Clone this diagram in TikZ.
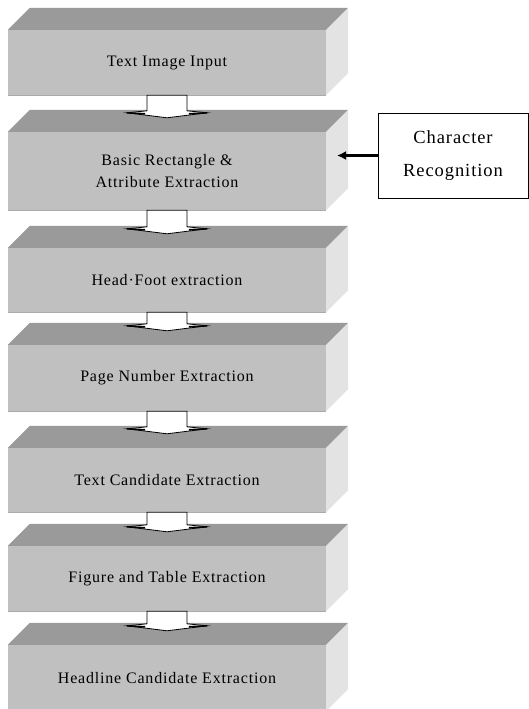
\documentclass[tikz,border=0pt]{standalone}
\usepackage{fontspec}
\setmainfont{Liberation Serif}[LetterSpace=5]
\usetikzlibrary{calc,arrows.meta}
\definecolor{topc}{HTML}{9A9A9A}
\definecolor{frontc}{HTML}{C0C0C0}
\definecolor{sidec}{HTML}{E3E3E3}
\definecolor{edgec}{HTML}{ABABAB}
\tikzset{
  front/.style={rectangle, fill=frontc, minimum width=318pt, inner sep=0pt,
    font=\fontsize{16}{22}\selectfont, align=center, text=black},
  topface/.style={fill=topc},
  sideface/.style={fill=sidec},
  bottomline/.style={draw=edgec, line width=0.8pt},
  blockarr/.style={fill=white, draw=black, line width=0.8pt, line join=miter},
  wingshade/.style={draw=black, line width=1.6pt},
  crbox/.style={draw=black, line width=1pt, fill=white, minimum width=150pt,
    minimum height=85pt, inner sep=0pt, align=center,
    font=\fontsize{18.5}{33}\selectfont},
  sidearr/.style={line width=2.5pt, -{Latex[length=9pt,width=9pt]}}
}
\newcommand\cubefaces[1]{%
  \fill[topface] (#1.north west) -- ++(22,-22) -- ($(#1.north east)+(22,-22)$) -- (#1.north east) -- cycle;
  \fill[sideface] (#1.north east) -- ++(22,-22) -- ($(#1.south east)+(22,-22)$) -- (#1.south east) -- cycle;
  \draw[bottomline] (#1.south west) -- (#1.south east);
}
\newcommand\blockarrow[2]{%
  \draw[blockarr] let \p1=(#1.south), \p2=(#2.north) in
    (\x1-20pt,\y1) -- (\x1+20pt,\y1) -- (\x1+20pt,\y2+21pt) -- (\x1+40pt,\y2+19pt)
    -- (\x1,\y2+14pt) -- (\x1-40pt,\y2+19pt) -- (\x1-20pt,\y2+21pt) -- cycle;
  \draw[wingshade] let \p1=(#1.south), \p2=(#2.north) in
    (\x1-40pt,\y2+19pt) -- (\x1-22pt,\y2+18pt)
    (\x1+40pt,\y2+19pt) -- (\x1+22pt,\y2+18pt);
}
\begin{document}
\begin{tikzpicture}[x=1pt,y=-1pt]
\useasboundingbox (0,0) rectangle (529,709);
\node[front, minimum height=65pt] (b1) at (167,62.5) {Text Image Input};
\node[front, minimum height=78pt] (b2) at (167,171) {Basic Rectangle \&\\Attribute Extraction};
\node[front, minimum height=64pt] (b3) at (167,280) {Head·Foot extraction};
\node[front, minimum height=66pt] (b4) at (167,378) {Page Number Extraction};
\node[front, minimum height=64pt] (b5) at (167,480) {Text Candidate Extraction};
\node[front, minimum height=65pt] (b6) at (167,578.5) {Figure and Table Extraction};
\node[front, minimum height=66pt] (b7) at (167,678) {Headline Candidate Extraction};
\foreach \b in {b1,b2,b3,b4,b5,b6,b7} {\cubefaces{\b}}
\blockarrow{b1}{b2}
\blockarrow{b2}{b3}
\blockarrow{b3}{b4}
\blockarrow{b4}{b5}
\blockarrow{b5}{b6}
\blockarrow{b6}{b7}
\node[crbox] (cr) at (453,155.5) {Character\\Recognition};
\coordinate (crtip) at (337,155.5);
\draw[sidearr] (cr.west) -- (crtip);
\end{tikzpicture}
\end{document}
